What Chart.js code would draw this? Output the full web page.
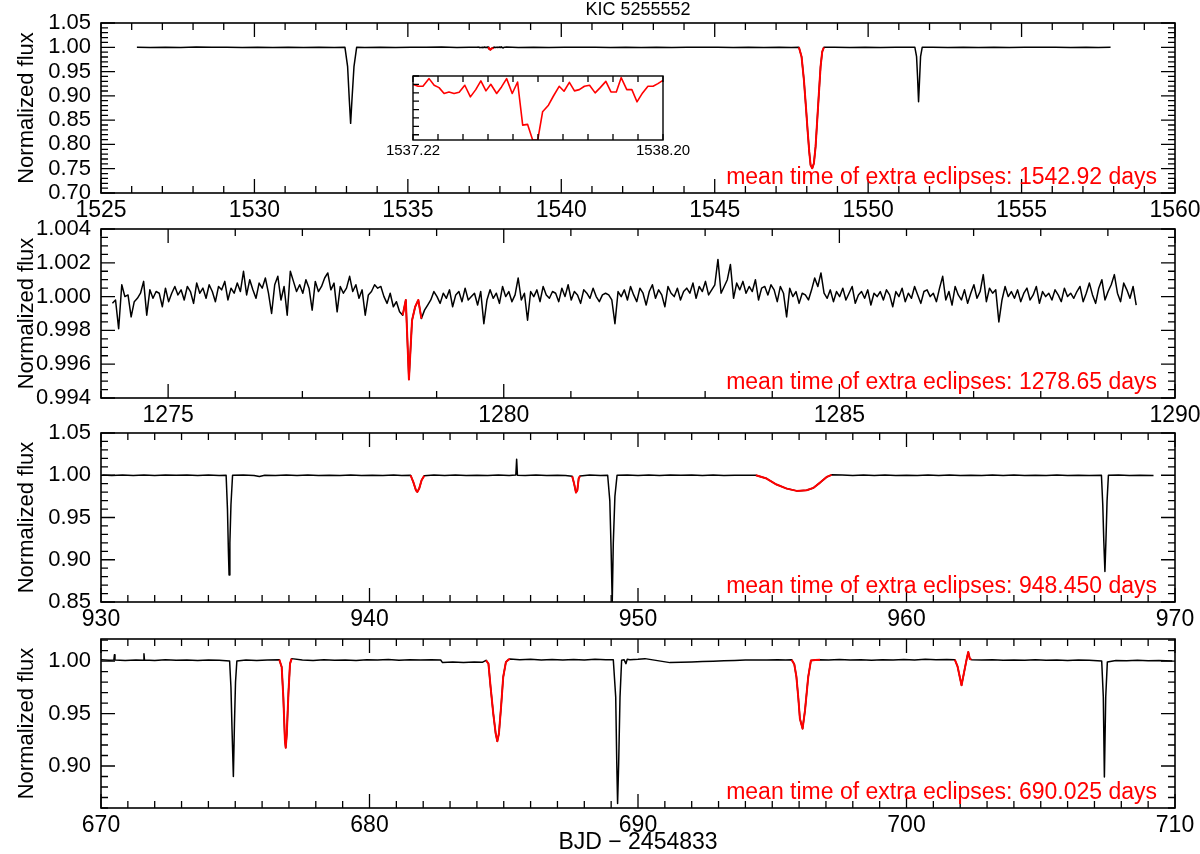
<!DOCTYPE html>
<html>
<head>
<meta charset="utf-8">
<title>KIC 5255552</title>
<script src="https://cdn.jsdelivr.net/npm/chart.js@4.4.0/dist/chart.umd.min.js"></script>
<style>
  body { margin: 0; background: #fff; }
  #wrap { position: relative; width: 1200px; height: 854px; overflow: hidden; background: #fff; }
  #wrap canvas { position: absolute; left: 0; }
</style>
</head>
<body>
<div id="wrap">
  <canvas id="p1" width="1200" height="233" style="top:0px"></canvas>
  <canvas id="p2" width="1200" height="223" style="top:215px"></canvas>
  <canvas id="p3" width="1200" height="223" style="top:419px"></canvas>
  <canvas id="p4" width="1200" height="229" style="top:625px"></canvas>
  <canvas id="inset" width="330" height="95" style="left:373px;top:70px"></canvas>
</div>
<script>
// ---- panel 1 : BJD-2454833 1525..1560 ----
const p1Time = [1526.17, 1526.6, 1527.1, 1527.6, 1528.1, 1528.6, 1529.1, 1529.6, 1530.1, 1530.6, 1531.1, 1531.6, 1532.1, 1532.6,
  1532.95, 1533.037, 1533.092, 1533.135, 1533.178, 1533.244, 1533.331,
  1533.6, 1534.1, 1534.6, 1535.1, 1535.6, 1536.1, 1536.6, 1537.0,
  1538.6, 1539.1, 1539.6, 1540.1, 1540.6, 1541.1, 1541.6, 1542.1, 1542.6, 1543.1, 1543.6, 1544.1, 1544.6, 1545.1, 1545.6, 1546.1, 1546.6, 1547.1, 1547.5,
  1547.744, 1547.830, 1547.907, 1547.972, 1548.026, 1548.080, 1548.124, 1548.178, 1548.232, 1548.287, 1548.341, 1548.395, 1548.450, 1548.504, 1548.558,
  1548.9, 1549.4, 1549.9, 1550.4, 1550.9, 1551.3,
  1551.523, 1551.578, 1551.610, 1551.643, 1551.675, 1551.708, 1551.762,
  1552.1, 1552.6, 1553.1, 1553.6, 1554.1, 1554.6, 1555.1, 1555.6, 1556.1, 1556.6, 1557.1, 1557.5, 1557.9];
const p1Flux = [1.0003, 0.9998, 1.0002, 0.9997, 1.0004, 0.9999, 1.0001, 0.9996, 1.0003, 0.9998, 1.0002, 0.9997, 1.0001, 0.9998,
  1.0, 0.960, 0.8915, 0.8434, 0.8915, 0.960, 1.0,
  0.9998, 1.0003, 0.9997, 1.0002, 0.9999, 1.0004, 0.9997, 1.0001,
  0.9998, 1.0003, 0.9997, 1.0002, 0.9999, 1.0003, 0.9996, 1.0002, 0.9998, 1.0001, 0.9997, 1.0003, 0.9999, 1.0002, 0.9997, 1.0001, 0.9998, 1.0003, 0.9998,
  1.0, 0.9807, 0.9326, 0.8777, 0.8297, 0.7851, 0.7576, 0.7508, 0.7611, 0.7954, 0.8503, 0.9052, 0.9601, 0.991, 1.0,
  1.0002, 0.9997, 1.0003, 0.9998, 1.0002, 0.9999,
  1.0, 0.9807, 0.9395, 0.888, 0.9326, 0.9807, 1.0,
  1.0002, 0.9997, 1.0003, 0.9998, 1.0002, 0.9996, 1.0003, 0.9999, 1.0002, 0.9997, 1.0003, 0.9998, 1.0001];
const p1RedRanges = [[1537.62, 1537.78], [1547.70, 1548.60]];
const p1XTicks = [1525, 1530, 1535, 1540, 1545, 1550, 1555, 1560];
const p1YTicks = [0.70, 0.75, 0.80, 0.85, 0.90, 0.95, 1.00, 1.05];

// ---- inset of panel 1 (long cadence around 1537.7) ----
const insetTime = [1537.220, 1537.240, 1537.259, 1537.283, 1537.303, 1537.322, 1537.342, 1537.361, 1537.381, 1537.401,
  1537.423, 1537.445, 1537.466, 1537.486, 1537.506, 1537.525, 1537.548, 1537.567, 1537.587, 1537.609,
  1537.630, 1537.650, 1537.669, 1537.689, 1537.709, 1537.728, 1537.751, 1537.770, 1537.793, 1537.812,
  1537.833, 1537.853, 1537.872, 1537.892, 1537.912, 1537.934, 1537.954, 1537.976, 1537.996, 1538.017,
  1538.036, 1538.058, 1538.078, 1538.098, 1538.120, 1538.141, 1538.161, 1538.180, 1538.200];
const insetFlux = [1.00021, 1.00002, 1.00002, 1.00075, 1.00012, 0.99989, 0.99933, 0.99948, 0.99933, 0.99945,
  1.00012, 0.99901, 0.99970, 1.00053, 0.99958, 1.00021, 0.99933, 0.99996, 1.00075, 0.99933,
  1.00043, 0.99632, 0.99639, 0.99490, 0.99490, 0.99759, 0.99822, 0.99907, 1.00002, 0.99955,
  1.00040, 0.99958, 0.99970, 1.00002, 1.00012, 0.99939, 0.99989, 1.00049, 0.99948, 0.99948,
  1.00084, 0.99970, 0.99970, 0.99854, 0.99939, 1.00002, 1.00002, 1.00027, 1.00059];
const insetXTicks = [1537.22, 1538.20];

// ---- panel 2 : 1274..1290, short cadence, flux deviation in units of 1e-4 ----
const p2Start = 1274.17;
const p2Cadence = 0.0465;
const p2Dev = [
  -4, -2, -19, 7, 0, 1, -12, -3, -1, 2, 9, -11, 4, -1, 3, 2, -6, 5, -3, 2, 6,
  1, 4, -2, 6, 3, -4, 8, 2, 5, -1, 7, 3, -3, 6, 4, 9, -2, 5, 2, 8, 3,
  15, 1, 10, 4, -1, 8, 5, 11, 2, -10, 7, 12, -2, 6, -11, 15, 9, 3, 7, 2, 10,
  5, -8, 9, 3, 6, 11, 14, 4, 8, -9, 6, 2, 5, 12, 3, 7, -1, 4, -11, 1, 3,
  7, 5, 6, 0, -4, 2, -6, -3, -9,
  -11, -2, -49, -14, -6, -2, -13,
  -8, -5, -2, 3, 0, -4, 2, -1, 4, -6, 1, 3, -3, 5, -2, 0, 2, -5, 3, -16, -2,
  4, -1, 2, -4, 6, 0, 3, -3, 1, 11, -2, 2, -14, 3, 0, 4, -3, 6, 1, -1, 3,
  2, -3, 5, 0, 7, -2, 3, 1, -4, 4, 2, -1, 5, 0, -3, 1, 2, 1, -2, -16, 3,
  0, 4, -2, 6, 1, -3, 5, 2, -5, 3, 7, -1, 4, 1, -6, 6, 2, 0, 5, -2, 3,
  5, 2, 8, -1, 6, 3, 9, 1, 4, 7, 22, 2, 6, 10, 19, -1, 8, 4, 9, 2, 6,
  3, 10, -2, 5, 6, 1, 7, 4, -3, 6, 2, -12, 5, 0, 3, -4, 2, 1, -2, 4, 11,
  6, 14, 2, -1, 4, -3, 3, 0, 5, -2, 2, 6, -4, 1, 3, -1, 4, -5, 2, 0, 3,
  -2, 4, 1, -6, 3, 0, 5, -3, 2, -1, 6, 1, -4, 3, 4, 0, 2, -3, 5, 12, -2,
  3, -5, 6, 1, -2, 4, -4, 2, 7, -1, 3, 13, -3, 5, 2, 4, -15, -2, 6, 0, 3,
  -1, 4, -3, 2, 5, -2, 1, 6, -4, 3, 0, 2, -2, 4, 1, -3, 5, 0, 2, -1, 3,
  6, -3, 2, 8, 1, -4, 5, 10, -2, 3, 7, 13, 2, -3, 8, 4, -1, 6, -5];
const p2RedRanges = [[1278.49, 1278.78]];
const p2XTicks = [1275, 1280, 1285, 1290];
const p2YTicks = [0.994, 0.996, 0.998, 1.000, 1.002, 1.004];

// ---- panel 3 : 930..970 ----
const p3Time = [930.05, 930.4, 930.8, 931.2, 931.6, 932.0, 932.4, 932.8, 933.2, 933.6, 934.0, 934.4,
  934.66, 934.71, 934.745, 934.77, 934.80, 934.84, 934.90,
  935.3, 935.7, 935.9, 936.1, 936.5, 936.9, 937.3, 937.7, 938.1, 938.5, 938.9, 939.3, 939.7, 940.1, 940.5, 940.9, 941.2,
  941.53, 941.63, 941.73, 941.78, 941.85, 941.94, 942.04,
  942.4, 942.8, 943.2, 943.6, 944.0, 944.4, 944.8, 945.2, 945.45, 945.48, 945.51, 945.8, 946.2, 946.6, 947.0, 947.3,
  947.55, 947.62, 947.69, 947.74, 947.79, 947.84,
  948.2, 948.6, 948.87, 948.95, 949.00, 949.04, 949.08, 949.14, 949.22,
  949.6, 950.0, 950.4, 950.8, 951.2, 951.6, 952.0, 952.4, 952.8, 953.2, 953.6, 954.0,
  954.39, 954.79, 955.16, 955.54, 955.91, 956.28, 956.53, 956.78, 957.03, 957.21,
  957.6, 958.0, 958.4, 958.8, 959.2, 959.6, 960.0, 960.4, 960.8, 961.2, 961.6, 962.0, 962.4, 962.8, 963.2, 963.6, 964.0, 964.4, 964.8, 965.2, 965.6, 966.0, 966.4, 966.8,
  967.26, 967.31, 967.35, 967.39, 967.43, 967.47, 967.52,
  967.9, 968.3, 968.7, 969.2];
const p3Flux = [1.0004, 0.9997, 1.0003, 0.9998, 1.0002, 0.9997, 1.0003, 0.9999, 1.0004, 0.9997, 1.0002, 0.9998,
  1.0, 0.96, 0.91, 0.882, 0.92, 0.965, 1.0,
  1.0002, 0.9998, 0.9985, 1.0001, 0.9997, 1.0003, 0.9998, 1.0002, 0.9996, 1.0001, 0.9998, 1.0002, 0.9997, 1.0001, 0.9996, 1.0002, 0.9998,
  1.0, 0.9921, 0.9822, 0.9803, 0.9842, 0.9941, 0.9995,
  1.0002, 0.9997, 1.0003, 0.9998, 1.0001, 0.9996, 1.0002, 0.9998, 1.0003, 1.019, 1.0001, 0.9997, 1.0002, 0.9998, 1.0001, 0.9997,
  0.9988, 0.9901, 0.9795, 0.9822, 0.9961, 0.9992,
  1.0002, 0.9998, 1.0, 0.97, 0.91, 0.849, 0.92, 0.975, 1.0,
  1.0003, 0.9998, 1.0002, 0.9997, 1.0003, 0.9999, 1.0002, 0.9998, 1.0004, 0.9997, 1.0001, 0.9999,
  1.0, 0.9961, 0.989, 0.9842, 0.9815, 0.9822, 0.985, 0.9913, 0.998, 1.0005,
  1.0002, 0.9998, 1.0003, 0.9997, 1.0002, 0.9998, 1.0001, 0.9997, 1.0003, 0.9998, 1.0002, 0.9996, 1.0001, 0.9998, 1.0003, 0.9997, 1.0002, 0.9998, 1.0001, 0.9997, 1.0002, 0.9998, 1.0001, 0.9997,
  1.0, 0.965, 0.92, 0.886, 0.925, 0.97, 1.0,
  1.0002, 0.9998, 1.0001, 0.9998];
const p3RedRanges = [[941.50, 942.05], [947.50, 947.85], [954.35, 957.25]];
const p3XTicks = [930, 940, 950, 960, 970];
const p3YTicks = [0.85, 0.90, 0.95, 1.00, 1.05];

// ---- panel 4 : 670..710 ----
const p4Time = [670.0, 670.3, 670.48, 670.50, 670.52, 670.9, 671.3, 671.58, 671.60, 671.62, 672.0, 672.4, 672.8, 673.2, 673.6, 674.0, 674.4,
  674.79, 674.84, 674.88, 674.93, 674.97, 675.01, 675.06,
  675.4, 675.8, 676.2,
  676.64, 676.73, 676.79, 676.85, 676.88, 676.92, 676.98, 677.04, 677.10,
  677.5, 677.9, 678.3, 678.7, 679.1, 679.5, 679.9, 680.3, 680.7, 681.1, 681.5, 681.9, 682.3, 682.65, 682.72, 683.1, 683.5, 683.9, 684.2,
  684.34, 684.43, 684.51, 684.61, 684.70, 684.76, 684.82, 684.90, 684.98, 685.08, 685.17, 685.23,
  685.6, 686.0, 686.4, 686.8, 687.2, 687.6, 688.0, 688.4, 688.8,
  689.08, 689.17, 689.21, 689.24, 689.28, 689.33, 689.39, 689.48, 689.55, 689.60, 689.70, 690.0, 690.26,
  691.19, 691.6, 692.0, 692.4, 692.8, 693.2, 693.6, 694.0, 694.4, 694.8, 695.2, 695.5,
  695.72, 695.82, 695.90, 695.97, 696.03, 696.13, 696.22, 696.34, 696.44, 696.60, 696.78,
  697.1, 697.5, 697.9, 698.3, 698.7, 699.1, 699.5, 699.9, 700.3, 700.7, 701.1, 701.5,
  701.80, 701.90, 702.05, 702.15, 702.25, 702.30, 702.36, 702.42,
  702.8, 703.2, 703.6, 704.0, 704.4, 704.8, 705.2, 705.6, 706.0, 706.4, 706.8,
  707.27, 707.33, 707.37, 707.42, 707.48,
  707.8, 708.2, 708.6, 709.0, 709.4, 709.9];
const p4Flux = [1.0012, 1.0008, 1.0010, 1.0060, 1.0010, 1.0006, 1.0011, 1.0008, 1.0070, 1.0009, 1.0006, 1.0012, 1.0007, 1.0010, 1.0005, 1.0011, 1.0007,
  1.0, 0.975, 0.935, 0.890, 0.94, 0.98, 1.0,
  1.0010, 1.0006, 1.0011,
  1.0013, 0.9943, 0.9657, 0.9245, 0.9175, 0.9309, 0.9690, 0.9975, 1.0023,
  1.0010, 1.0006, 1.0012, 1.0008, 1.0011, 1.0006, 1.0013, 1.0009, 1.0014, 1.0008, 1.0012, 1.0009, 1.0013, 1.0010, 0.9985, 0.9990, 0.9986, 0.9991, 0.9988,
  1.0007, 0.9975, 0.9752, 0.9499, 0.9309, 0.9235, 0.9309, 0.9562, 0.9848, 0.9990, 1.0013, 1.0019,
  1.0012, 1.0016, 1.0011, 1.0015, 1.0010, 1.0014, 1.0011, 1.0016, 1.0012,
  1.0013, 0.9657, 0.9023, 0.8642, 0.9023, 0.9657, 1.0007, 1.0013, 0.9975, 1.0018, 1.0013, 1.0016, 1.0023,
  0.9985, 0.9988, 0.9991, 0.9995, 0.9998, 1.0003, 1.0006, 1.0009, 1.0011, 1.0009, 1.0012, 1.0010,
  1.0013, 0.997, 0.985, 0.965, 0.945, 0.9356, 0.953, 0.985, 1.0005, 1.0010, 1.0013,
  1.0010, 1.0014, 1.0009, 1.0012, 1.0008, 1.0013, 1.0010, 1.0014, 1.0011, 1.0016, 1.0012, 1.0015,
  1.0013, 0.995, 0.9769, 0.990, 1.003, 1.0086, 1.002, 1.0013,
  1.0010, 1.0013, 1.0008, 1.0011, 1.0007, 1.0012, 1.0008, 1.0011, 1.0006, 1.0010, 1.0007,
  1.0, 0.9657, 0.8895, 0.9657, 0.999,
  1.0006, 1.0003, 1.0007, 1.0002, 1.0005, 1.0001];
const p4RedRanges = [[676.60, 677.12], [684.30, 685.25], [695.70, 696.80], [701.78, 702.45]];
const p4XTicks = [670, 680, 690, 700, 710];
const p4YTicks = [0.90, 0.95, 1.00];

const FONT = '"Liberation Sans", Arial, Helvetica, sans-serif';
Chart.defaults.font.family = FONT;
Chart.defaults.color = '#000';

function toPoints(ts, fs) {
  return ts.map((t, i) => ({ x: t, y: fs[i] }));
}

function pickRanges(points, ranges) {
  const out = [];
  ranges.forEach(r => {
    points.forEach(p => { if (p.x >= r[0] && p.x <= r[1]) out.push(p); });
    out.push({ x: r[1], y: null });
  });
  return out;
}

function tickValues(min, max, base, step) {
  const out = [];
  for (let i = Math.ceil((min - base) / step - 1e-6); ; i++) {
    const v = base + i * step;
    if (v > max + step * 1e-6) break;
    out.push(v);
  }
  return out;
}

function isMajor(v, base, major) {
  if (!major) return false;
  const q = (v - base) / major;
  return Math.abs(q - Math.round(q)) < 1e-6;
}

// box, inward ticks on every side, red note and title
const framePlugin = {
  id: 'frame',
  afterDatasetsDraw(chart, args, o) {
    const { ctx, chartArea: a } = chart;
    const xs = chart.scales.x, ys = chart.scales.y;
    ctx.save();
    ctx.strokeStyle = '#000';
    ctx.lineWidth = o.boxWidth || 1.6;
    ctx.strokeRect(a.left, a.top, a.right - a.left, a.bottom - a.top);
    ctx.lineWidth = 1.3;
    ctx.beginPath();
    tickValues(xs.min, xs.max, o.xBase || 0, o.xMinor).forEach(v => {
      const px = xs.getPixelForValue(v);
      const len = isMajor(v, o.xBase || 0, o.xMajor) ? o.majorLen : o.minorLen;
      if (o.bottom !== false) { ctx.moveTo(px, a.bottom); ctx.lineTo(px, a.bottom - len); }
      if (o.top !== false) { ctx.moveTo(px, a.top); ctx.lineTo(px, a.top + len); }
    });
    tickValues(ys.min, ys.max, o.yBase || 0, o.yMinor).forEach(v => {
      const py = ys.getPixelForValue(v);
      const len = isMajor(v, o.yBase || 0, o.yMajor) ? o.majorLen : o.minorLen;
      if (o.left !== false) { ctx.moveTo(a.left, py); ctx.lineTo(a.left + len, py); }
      if (o.right !== false) { ctx.moveTo(a.right, py); ctx.lineTo(a.right - len, py); }
    });
    ctx.stroke();
    if (o.note) {
      ctx.fillStyle = '#ff0000';
      ctx.font = '23px ' + FONT;
      ctx.textAlign = 'right';
      ctx.textBaseline = 'alphabetic';
      ctx.fillText(o.note, a.right - 18, a.bottom - 9);
    }
    if (o.title) {
      ctx.fillStyle = '#000';
      ctx.font = '18px ' + FONT;
      ctx.textAlign = 'center';
      ctx.textBaseline = 'middle';
      ctx.fillText(o.title, (a.left + a.right) / 2, 10);
    }
    ctx.restore();
  }
};

function makePanel(id, c) {
  return new Chart(document.getElementById(id), {
    type: 'line',
    data: {
      datasets: [
        { data: c.red, borderColor: '#ff0000', borderWidth: 2, pointRadius: 0, order: 0, spanGaps: false, borderJoinStyle: 'round' },
        { data: c.points, borderColor: '#000000', borderWidth: 1.5, pointRadius: 0, order: 1, spanGaps: false, borderJoinStyle: 'round' }
      ]
    },
    options: {
      responsive: false,
      animation: false,
      events: [],
      layout: { padding: { top: c.padTop, right: 25, left: 0, bottom: 0 } },
      plugins: {
        legend: { display: false },
        tooltip: { enabled: false },
        frame: {
          xMinor: c.xMinor, xMajor: c.xMajor, yMinor: c.yMinor, yMajor: c.yMajor,
          majorLen: 14, minorLen: 7, note: c.note, title: c.title
        }
      },
      scales: {
        x: {
          type: 'linear', position: 'bottom', min: c.xMin, max: c.xMax,
          grid: { display: false, drawTicks: false },
          border: { display: false },
          ticks: { font: { size: 23 }, color: '#000', padding: 4, autoSkip: false, maxRotation: 0,
                   callback: v => v.toFixed(0) },
          title: c.xTitle ? { display: true, text: c.xTitle, font: { size: 23 }, color: '#000', padding: { top: 0, bottom: -2 } } : { display: false },
          afterBuildTicks: s => { s.ticks = c.xTicks.map(v => ({ value: v })); },
          afterFit: s => { s.height = c.xAxisH; s.paddingLeft = 0; s.paddingRight = 0; }
        },
        y: {
          min: c.yMin, max: c.yMax,
          grid: { display: false, drawTicks: false },
          border: { display: false },
          ticks: { font: { size: 22 }, color: '#000', padding: 10, autoSkip: false,
                   callback: v => v.toFixed(c.yDec) },
          title: { display: true, text: 'Normalized flux', font: { size: 22 }, color: '#000', padding: { top: 14, bottom: 0 } },
          afterBuildTicks: s => { s.ticks = c.yTicks.map(v => ({ value: v })); },
          afterFit: s => { s.width = 101; s.paddingTop = 0; s.paddingBottom = 0; }
        }
      }
    },
    plugins: [framePlugin]
  });
}

// panel 1: own points plus the inset's long-cadence points
const insetPoints = toPoints(insetTime, insetFlux);
const p1Points = toPoints(p1Time, p1Flux).concat(insetPoints).sort((a, b) => a.x - b.x);
makePanel('p1', {
  points: p1Points, red: pickRanges(p1Points, p1RedRanges),
  xMin: 1525, xMax: 1560, yMin: 0.70, yMax: 1.05, xTicks: p1XTicks, yTicks: p1YTicks, yDec: 2,
  xMinor: 1, xMajor: 5, yMinor: 0.01, yMajor: 0.05,
  padTop: 23, xAxisH: 40, title: 'KIC 5255552',
  note: 'mean time of extra eclipses: 1542.92 days'
});

const p2Points = p2Dev.map((d, i) => ({ x: p2Start + i * p2Cadence, y: 1 + d * 1e-4 }));
makePanel('p2', {
  points: p2Points, red: pickRanges(p2Points, p2RedRanges),
  xMin: 1274, xMax: 1290, yMin: 0.994, yMax: 1.004, xTicks: p2XTicks, yTicks: p2YTicks, yDec: 3,
  xMinor: 1, xMajor: 5, yMinor: 0.0005, yMajor: 0.002,
  padTop: 14, xAxisH: 40,
  note: 'mean time of extra eclipses: 1278.65 days'
});

const p3Points = toPoints(p3Time, p3Flux);
makePanel('p3', {
  points: p3Points, red: pickRanges(p3Points, p3RedRanges),
  xMin: 930, xMax: 970, yMin: 0.85, yMax: 1.05, xTicks: p3XTicks, yTicks: p3YTicks, yDec: 2,
  xMinor: 1, xMajor: 10, yMinor: 0.01, yMajor: 0.05,
  padTop: 14, xAxisH: 40,
  note: 'mean time of extra eclipses: 948.450 days'
});

const p4Points = toPoints(p4Time, p4Flux);
makePanel('p4', {
  points: p4Points, red: pickRanges(p4Points, p4RedRanges),
  xMin: 670, xMax: 710, yMin: 0.86, yMax: 1.021, xTicks: p4XTicks, yTicks: p4YTicks, yDec: 2,
  xMinor: 1, xMajor: 10, yMinor: 0.01, yMajor: 0.05,
  padTop: 14, xAxisH: 46, xTitle: 'BJD \u2212 2454833',
  note: 'mean time of extra eclipses: 690.025 days'
});

// inset
new Chart(document.getElementById('inset'), {
  type: 'line',
  data: {
    datasets: [{ data: insetPoints, borderColor: '#ff0000', borderWidth: 1.6, pointRadius: 0, borderJoinStyle: 'round' }]
  },
  options: {
    responsive: false,
    animation: false,
    events: [],
    layout: { padding: { top: 6, left: 40, right: 40, bottom: 0 } },
    plugins: {
      legend: { display: false },
      tooltip: { enabled: false },
      frame: { xBase: 1537.22, xMinor: 0.098, yBase: 1.001, yMinor: 0.0008, majorLen: 6, minorLen: 6, right: false, boxWidth: 1.4 }
    },
    scales: {
      x: {
        type: 'linear', min: 1537.22, max: 1538.20,
        grid: { display: false, drawTicks: false },
        border: { display: false },
        ticks: { font: { size: 15 }, color: '#000', padding: 2, autoSkip: false, maxRotation: 0, callback: v => v.toFixed(2) },
        afterBuildTicks: s => { s.ticks = insetXTicks.map(v => ({ value: v })); },
        afterFit: s => { s.height = 25; s.paddingLeft = 0; s.paddingRight = 0; }
      },
      y: { display: false, min: 0.9949, max: 1.001 }
    }
  },
  plugins: [framePlugin]
});
</script>
</body>
</html>
